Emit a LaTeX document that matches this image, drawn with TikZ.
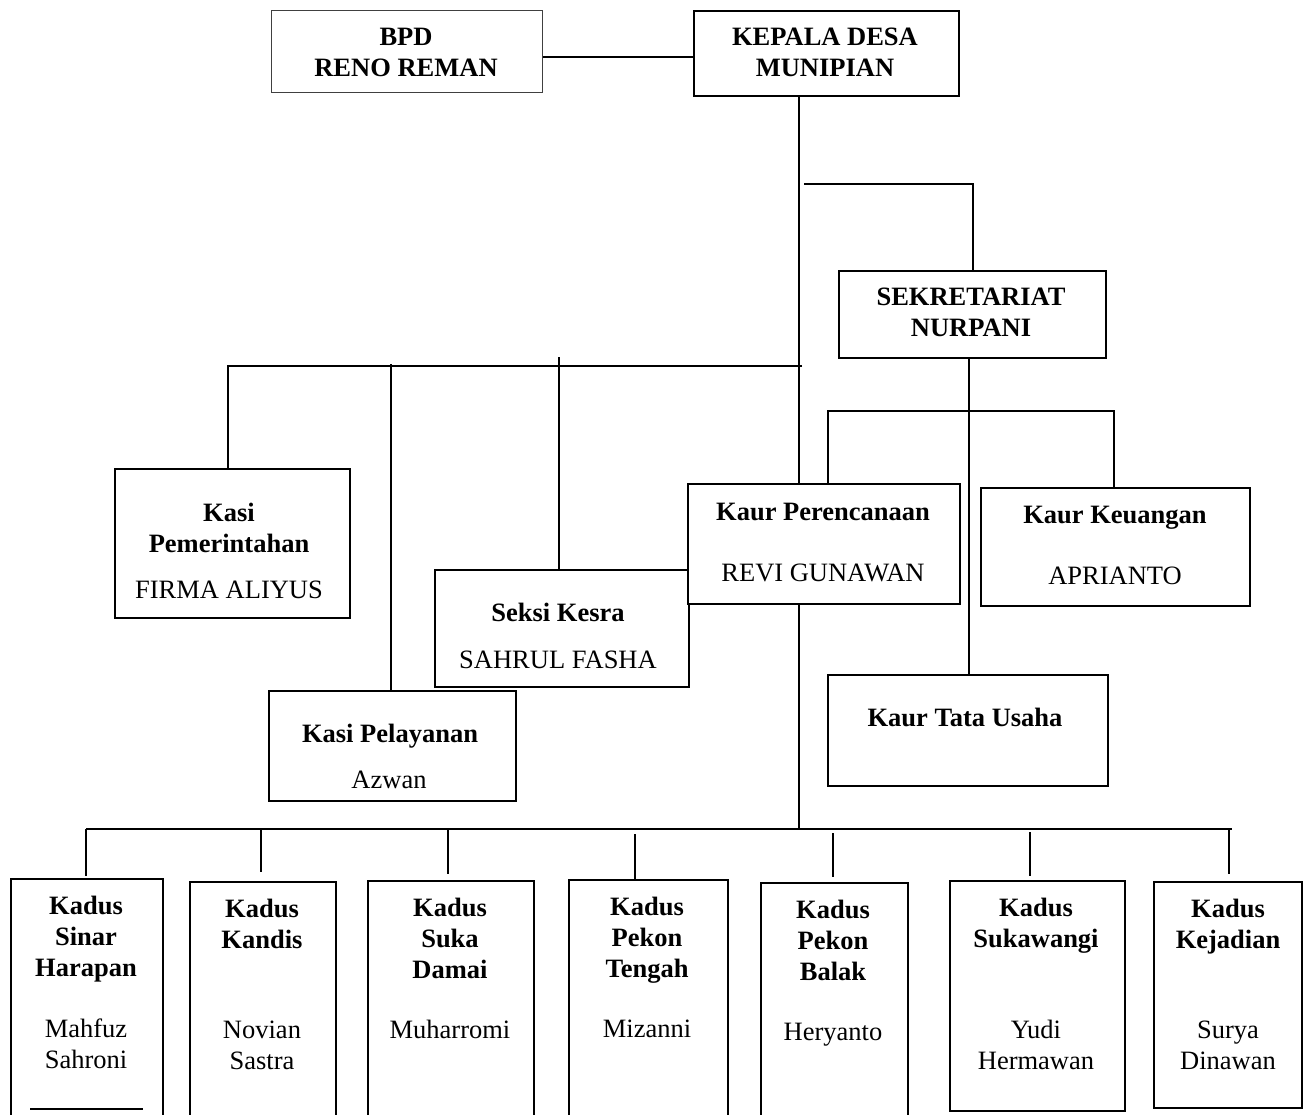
\documentclass[tikz,border=0pt]{standalone}
\usepackage{fontspec}
\setmainfont{Liberation Serif}
\usetikzlibrary{calc}
\newcommand\mlines[1]{\begin{tabular}[t]{@{}c@{}}#1\end{tabular}}
\tikzset{
  box/.style={draw, line width=2pt, fill=white, inner sep=0pt, anchor=north west},
  conn/.style={line width=2pt},
  ttl/.style={anchor=base, inner sep=0pt, font=\fontsize{26.5}{31}\selectfont\bfseries},
  nm/.style={anchor=base, inner sep=0pt, font=\fontsize{26.5}{31}\selectfont},
}
\begin{document}
\begin{tikzpicture}[x=1pt,y=-1pt]
\useasboundingbox (0,0) rectangle (1305,1114);
\clip (0,0) rectangle (1305,1114);

% ---------- boxes ----------
\node[box, minimum width=271pt, minimum height=82pt, line width=1.3pt, draw=black!75] (bpd) at (271,10) {};
\node[box, minimum width=265pt, minimum height=85pt] (kades) at (693,10) {};
\node[box, minimum width=267pt, minimum height=87pt] (sekr) at (838,270) {};
\node[box, minimum width=235pt, minimum height=149pt] (kpem) at (114,468) {};
\node[box, minimum width=254pt, minimum height=117pt] (seksi) at (434,569) {};
\node[box, minimum width=272pt, minimum height=120pt] (kaurp) at (687,483) {};
\node[box, minimum width=269pt, minimum height=118pt] (keu) at (980,487) {};
\node[box, minimum width=247pt, minimum height=110pt] (kpel) at (268,690) {};
\node[box, minimum width=280pt, minimum height=111pt] (tu) at (827,674) {};
\node[box, minimum width=152pt, minimum height=250pt] (k1) at (10,878) {};
\node[box, minimum width=146pt, minimum height=250pt] (k2) at (189,881) {};
\node[box, minimum width=166pt, minimum height=250pt] (k3) at (367,880) {};
\node[box, minimum width=159pt, minimum height=250pt] (k4) at (568,879) {};
\node[box, minimum width=147pt, minimum height=250pt] (k5) at (760,882) {};
\node[box, minimum width=175pt, minimum height=230pt] (k6) at (949,880) {};
\node[box, minimum width=148pt, minimum height=226pt] (k7) at (1153,881) {};

% ---------- connectors ----------
\coordinate (c0) at (0,57);
\draw[conn] (bpd.east |- c0) -- (kades.west |- c0);
\coordinate (vx) at (799,0);
\draw[conn] (vx |- kades.south) -- (vx |- kaurp.north);
\coordinate (s1) at (804,184);
\draw[conn] (s1) -| (sekr.north);
\coordinate (hL) at (228,366);
\coordinate (hR) at (802,366);
\draw[conn] (hR) -- (hL) -- (hL |- kpem.north);
\coordinate (t2) at (391,364);
\draw[conn] (t2) -- (t2 |- kpel.north);
\coordinate (t3) at (559,357);
\draw[conn] (t3) -- (t3 |- seksi.north);
\coordinate (sx) at (969,359);
\draw[conn] (sx) -- (sx |- tu.north);
\coordinate (b1) at (828,411);
\coordinate (b2) at (1114,411);
\draw[conn] (b1 |- kaurp.north) -- (b1) -- (b2) -- (b2 |- keu.north);

\coordinate (busL) at (86,829);
\coordinate (busR) at (1232,829);
\draw[conn] (vx |- kaurp.south) -- (vx |- busL);
\draw[conn] (busL) -- (busR);
\coordinate (d1) at (86,829);
\coordinate (d2) at (261,829);
\coordinate (d3) at (448,829);
\coordinate (d4) at (635,834);
\coordinate (d5) at (833,833);
\coordinate (d6) at (1030,832);
\coordinate (d7) at (1229,830);
\draw[conn] (d1) -- ($(d1 |- k1.north)+(0,-2)$);
\draw[conn] (d2) -- ($(d2 |- k2.north)+(0,-9)$);
\draw[conn] (d3) -- ($(d3 |- k3.north)+(0,-6)$);
\draw[conn] (d4) -- (d4 |- k4.north);
\draw[conn] (d5) -- ($(d5 |- k5.north)+(0,-5)$);
\draw[conn] (d6) -- ($(d6 |- k6.north)+(0,-4)$);
\draw[conn] (d7) -- ($(d7 |- k7.north)+(0,-7)$);
\coordinate (u1) at (30,1109);
\coordinate (u2) at (143,1109);
\draw[line width=1.5pt] (u1) -- (u2);

% ---------- texts ----------
\node[ttl] (tbpd) at (406,45) {\mlines{BPD\\RENO REMAN}};
\node[ttl] (tkades) at (825,45) {\mlines{KEPALA DESA\\MUNIPIAN}};
\node[ttl] (tsekr) at (971,305) {\mlines{SEKRETARIAT\\NURPANI}};
\node[ttl] (tkpem) at (229,521) {\mlines{Kasi\\Pemerintahan}};
\node[nm] (nkpem) at (229,598) {FIRMA ALIYUS};
\node[ttl] (tseksi) at (558,621) {Seksi Kesra};
\node[nm] (nseksi) at (558,668) {SAHRUL FASHA};
\node[ttl] (tkaurp) at (823,520) {Kaur Perencanaan};
\node[nm] (nkaurp) at (823,581) {REVI GUNAWAN};
\node[ttl] (tkeu) at (1115,523) {Kaur Keuangan};
\node[nm] (nkeu) at (1115,584) {APRIANTO};
\node[ttl] (tkpel) at (390,742) {Kasi Pelayanan};
\node[nm] (nkpel) at (389,788) {Azwan};
\node[ttl] (ttu) at (965,726) {Kaur Tata Usaha};

\node[ttl] (tk1) at (86,914) {\mlines{Kadus\\Sinar\\Harapan}};
\node[nm] (nk1) at (86,1037) {\mlines{Mahfuz\\Sahroni}};
\node[ttl] (tk2) at (262,917) {\mlines{Kadus\\Kandis}};
\node[nm] (nk2) at (262,1038) {\mlines{Novian\\Sastra}};
\node[ttl] (tk3) at (450,916) {\mlines{Kadus\\Suka\\Damai}};
\node[nm] (nk3) at (450,1038) {Muharromi};
\node[ttl] (tk4) at (647,915) {\mlines{Kadus\\Pekon\\Tengah}};
\node[nm] (nk4) at (647,1037) {Mizanni};
\node[ttl] (tk5) at (833,918) {\mlines{Kadus\\Pekon\\Balak}};
\node[nm] (nk5) at (833,1040) {Heryanto};
\node[ttl] (tk6) at (1036,916) {\mlines{Kadus\\Sukawangi}};
\node[nm] (nk6) at (1036,1038) {\mlines{Yudi\\Hermawan}};
\node[ttl] (tk7) at (1228,917) {\mlines{Kadus\\Kejadian}};
\node[nm] (nk7) at (1228,1038) {\mlines{Surya\\Dinawan}};
\end{tikzpicture}
\end{document}
